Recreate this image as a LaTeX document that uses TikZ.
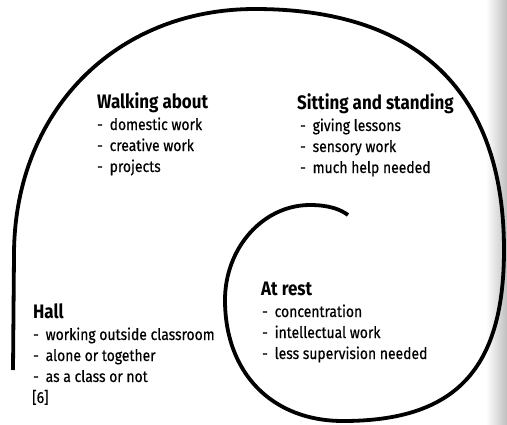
\documentclass[tikz,border=0pt]{standalone}
\usepackage{fontspec}
\setmainfont{Fira Sans}[FakeStretch=0.87]
\newfontfamily\bodyfont{Fira Sans}[FakeStretch=0.87, FakeBold=0.5]

\newcommand{\dashitem}[1]{\makebox[12.5pt][l]{-}#1}

\begin{document}
\begin{tikzpicture}[x=1pt, y=-1pt,
    heading/.style={font=\bfseries\fontsize{19.5}{22}\selectfont, anchor=base west, inner sep=0pt},
    entry/.style={font=\bodyfont\fontsize{16}{19}\selectfont, anchor=base west, inner sep=0pt},
    spiral/.style={line width=3.8pt}]
            \useasboundingbox (0,0) rectangle (507,424);
            \shade[left color=white, right color=black!25] (486,0) rectangle (507,424);
            % the spiral, from the hall inwards
            \draw[spiral] (13,370) -- (14,255)
                .. controls (14,112) and (115,9) .. (255,9)
                .. controls (418,9) and (504,92) .. (504,250)
                .. controls (504,370) and (455,421) .. (343,421)
                .. controls (272,421) and (225,373) .. (225,300)
                .. controls (225,248) and (263,205) .. (310,205)
                .. controls (328,205) and (340,209) .. (348,215);
            \node[heading] (walk) at (97,108) {Walking about};
            \foreach \txt [count=\i] in {domestic work, creative work, projects}
                \node[entry] (walk-\i) at (97,109+21*\i) {\dashitem{\txt}};
            \node[heading] (sit) at (297,109) {Sitting and standing};
            \foreach \txt [count=\i] in {giving lessons, sensory work, much help needed}
                \node[entry] (sit-\i) at (300,110+21*\i) {\dashitem{\txt}};
            \node[heading] (rest) at (261,295) {At rest};
            \foreach \txt [count=\i] in {concentration, intellectual work, less supervision needed}
                \node[entry] (rest-\i) at (262,296+21*\i) {\dashitem{\txt}};
            \node[heading] (hall) at (33,318) {Hall};
            \foreach \txt [count=\i] in {working outside classroom, alone or together, as a class or not}
                \node[entry] (hall-\i) at (33,319+21*\i) {\dashitem{\txt}};
            \node[entry] (fig) at (32,403) {[6]};
        \end{tikzpicture}
\end{document}
